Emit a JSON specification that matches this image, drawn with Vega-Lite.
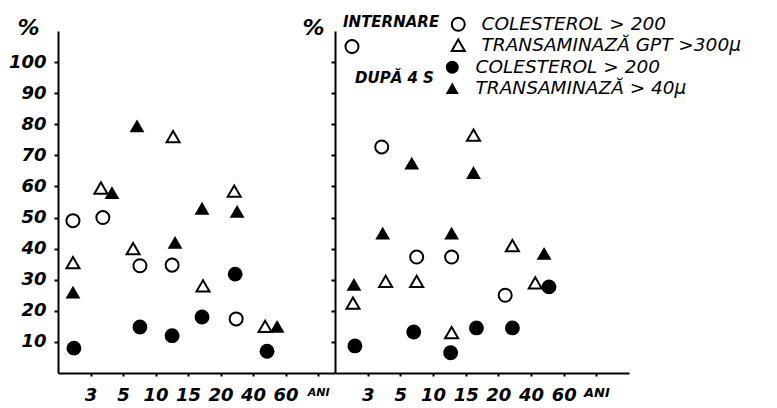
{
  "$schema": "https://vega.github.io/schema/vega-lite/v6.json",
  "background": "white",
  "padding": {"left": 8, "top": 15, "right": 0, "bottom": 0},
  "spacing": 0,
  "bounds": "flush",
  "config": {
    "view": {"stroke": null},
    "font": "DejaVu Sans",
    "axis": {
      "grid": false,
      "domainColor": "black",
      "domainWidth": 2,
      "tickColor": "black",
      "tickWidth": 2,
      "labelFont": "DejaVu Sans",
      "labelFontSize": 18,
      "labelFontStyle": "italic",
      "labelFontWeight": "bold",
      "labelColor": "black",
      "titleColor": "black",
      "titleFont": "DejaVu Sans"
    },
    "legend": {
      "labelFont": "DejaVu Sans",
      "labelFontSize": 18.5,
      "labelFontStyle": "italic",
      "labelColor": "black",
      "labelLimit": 400,
      "labelOffset": 14,
      "titleFont": "DejaVu Sans",
      "titleFontSize": 15,
      "titleFontStyle": "italic",
      "titleFontWeight": "bold",
      "titleColor": "black",
      "titleOrient": "left",
      "titlePadding": 9,
      "symbolSize": 170,
      "symbolStrokeWidth": 2,
      "symbolStrokeColor": "black",
      "rowPadding": 0,
      "padding": 0
    }
  },
  "datasets": {
    "pts": [
      {"panel": "M", "etapa": "INTERNARE", "ind": "COLESTEROL > 200", "grupa": 0.46, "pct": 49},
      {"panel": "M", "etapa": "INTERNARE", "ind": "COLESTEROL > 200", "grupa": 1.38, "pct": 50},
      {"panel": "M", "etapa": "INTERNARE", "ind": "COLESTEROL > 200", "grupa": 2.52, "pct": 34.5},
      {"panel": "M", "etapa": "INTERNARE", "ind": "COLESTEROL > 200", "grupa": 3.51, "pct": 34.7},
      {"panel": "M", "etapa": "INTERNARE", "ind": "COLESTEROL > 200", "grupa": 5.48, "pct": 17.4},
      {"panel": "M", "etapa": "INTERNARE", "ind": "TRANSAMINAZĂ GPT >300μ", "grupa": 0.46, "pct": 35.5},
      {"panel": "M", "etapa": "INTERNARE", "ind": "TRANSAMINAZĂ GPT >300μ", "grupa": 1.32, "pct": 59.5},
      {"panel": "M", "etapa": "INTERNARE", "ind": "TRANSAMINAZĂ GPT >300μ", "grupa": 2.31, "pct": 40},
      {"panel": "M", "etapa": "INTERNARE", "ind": "TRANSAMINAZĂ GPT >300μ", "grupa": 3.54, "pct": 76},
      {"panel": "M", "etapa": "INTERNARE", "ind": "TRANSAMINAZĂ GPT >300μ", "grupa": 4.46, "pct": 28},
      {"panel": "M", "etapa": "INTERNARE", "ind": "TRANSAMINAZĂ GPT >300μ", "grupa": 5.42, "pct": 58.5},
      {"panel": "M", "etapa": "INTERNARE", "ind": "TRANSAMINAZĂ GPT >300μ", "grupa": 6.37, "pct": 15},
      {"panel": "M", "etapa": "DUPĂ 4 S", "ind": "COLESTEROL > 200", "grupa": 0.49, "pct": 8},
      {"panel": "M", "etapa": "DUPĂ 4 S", "ind": "COLESTEROL > 200", "grupa": 2.52, "pct": 14.8},
      {"panel": "M", "etapa": "DUPĂ 4 S", "ind": "COLESTEROL > 200", "grupa": 3.51, "pct": 12},
      {"panel": "M", "etapa": "DUPĂ 4 S", "ind": "COLESTEROL > 200", "grupa": 4.43, "pct": 18},
      {"panel": "M", "etapa": "DUPĂ 4 S", "ind": "COLESTEROL > 200", "grupa": 5.45, "pct": 31.8},
      {"panel": "M", "etapa": "DUPĂ 4 S", "ind": "COLESTEROL > 200", "grupa": 6.43, "pct": 7},
      {"panel": "M", "etapa": "DUPĂ 4 S", "ind": "TRANSAMINAZĂ > 40μ", "grupa": 0.46, "pct": 26},
      {"panel": "M", "etapa": "DUPĂ 4 S", "ind": "TRANSAMINAZĂ > 40μ", "grupa": 1.66, "pct": 58},
      {"panel": "M", "etapa": "DUPĂ 4 S", "ind": "TRANSAMINAZĂ > 40μ", "grupa": 2.43, "pct": 79.5},
      {"panel": "M", "etapa": "DUPĂ 4 S", "ind": "TRANSAMINAZĂ > 40μ", "grupa": 3.6, "pct": 42},
      {"panel": "M", "etapa": "DUPĂ 4 S", "ind": "TRANSAMINAZĂ > 40μ", "grupa": 4.43, "pct": 53},
      {"panel": "M", "etapa": "DUPĂ 4 S", "ind": "TRANSAMINAZĂ > 40μ", "grupa": 5.51, "pct": 52},
      {"panel": "M", "etapa": "DUPĂ 4 S", "ind": "TRANSAMINAZĂ > 40μ", "grupa": 6.74, "pct": 15},
      {"panel": "F", "etapa": "INTERNARE", "ind": "COLESTEROL > 200", "grupa": 0.52, "pct": 105},
      {"panel": "F", "etapa": "INTERNARE", "ind": "COLESTEROL > 200", "grupa": 1.43, "pct": 72.7},
      {"panel": "F", "etapa": "INTERNARE", "ind": "COLESTEROL > 200", "grupa": 2.5, "pct": 37.3},
      {"panel": "F", "etapa": "INTERNARE", "ind": "COLESTEROL > 200", "grupa": 3.57, "pct": 37.3},
      {"panel": "F", "etapa": "INTERNARE", "ind": "COLESTEROL > 200", "grupa": 5.21, "pct": 25},
      {"panel": "F", "etapa": "INTERNARE", "ind": "TRANSAMINAZĂ GPT >300μ", "grupa": 0.55, "pct": 22.5},
      {"panel": "F", "etapa": "INTERNARE", "ind": "TRANSAMINAZĂ GPT >300μ", "grupa": 1.55, "pct": 29.5},
      {"panel": "F", "etapa": "INTERNARE", "ind": "TRANSAMINAZĂ GPT >300μ", "grupa": 2.5, "pct": 29.5},
      {"panel": "F", "etapa": "INTERNARE", "ind": "TRANSAMINAZĂ GPT >300μ", "grupa": 3.57, "pct": 13},
      {"panel": "F", "etapa": "INTERNARE", "ind": "TRANSAMINAZĂ GPT >300μ", "grupa": 4.24, "pct": 76.5},
      {"panel": "F", "etapa": "INTERNARE", "ind": "TRANSAMINAZĂ GPT >300μ", "grupa": 5.43, "pct": 41},
      {"panel": "F", "etapa": "INTERNARE", "ind": "TRANSAMINAZĂ GPT >300μ", "grupa": 6.13, "pct": 29},
      {"panel": "F", "etapa": "DUPĂ 4 S", "ind": "COLESTEROL > 200", "grupa": 0.61, "pct": 8.7},
      {"panel": "F", "etapa": "DUPĂ 4 S", "ind": "COLESTEROL > 200", "grupa": 2.41, "pct": 13.2},
      {"panel": "F", "etapa": "DUPĂ 4 S", "ind": "COLESTEROL > 200", "grupa": 3.54, "pct": 6.5},
      {"panel": "F", "etapa": "DUPĂ 4 S", "ind": "COLESTEROL > 200", "grupa": 4.33, "pct": 14.5},
      {"panel": "F", "etapa": "DUPĂ 4 S", "ind": "COLESTEROL > 200", "grupa": 5.43, "pct": 14.5},
      {"panel": "F", "etapa": "DUPĂ 4 S", "ind": "COLESTEROL > 200", "grupa": 6.55, "pct": 27.7},
      {"panel": "F", "etapa": "DUPĂ 4 S", "ind": "TRANSAMINAZĂ > 40μ", "grupa": 0.58, "pct": 28.5},
      {"panel": "F", "etapa": "DUPĂ 4 S", "ind": "TRANSAMINAZĂ > 40μ", "grupa": 1.46, "pct": 45},
      {"panel": "F", "etapa": "DUPĂ 4 S", "ind": "TRANSAMINAZĂ > 40μ", "grupa": 2.35, "pct": 67.5},
      {"panel": "F", "etapa": "DUPĂ 4 S", "ind": "TRANSAMINAZĂ > 40μ", "grupa": 3.57, "pct": 45},
      {"panel": "F", "etapa": "DUPĂ 4 S", "ind": "TRANSAMINAZĂ > 40μ", "grupa": 4.24, "pct": 64.5},
      {"panel": "F", "etapa": "DUPĂ 4 S", "ind": "TRANSAMINAZĂ > 40μ", "grupa": 6.4, "pct": 38.5}
    ]
  },
  "hconcat": [
    {
      "width": 277,
      "height": 342,
      "encoding": {
        "x": {
          "field": "grupa", "type": "quantitative",
          "scale": {"domain": [0, 8.52], "nice": false, "zero": false},
          "axis": {
            "title": null,
            "values": [1, 2, 3, 4, 5, 6, 7, 8],
            "labelExpr": "['', '3', '5', '10', '15', '20', '40', '60', 'ANI'][datum.value]",
            "labelFontSize": {"condition": {"test": "datum.value == 8", "value": 11}, "value": 18},
            "tickSize": 3,
            "labelPadding": 10,
            "labelFlush": false,
            "labelOverlap": false,
            "labelSeparation": -40
          }
        },
        "y": {
          "field": "pct", "type": "quantitative",
          "scale": {"domain": [0, 110], "nice": false},
          "axis": {
            "title": "%",
            "titleAngle": 0,
            "titleX": -30,
            "titleY": -4,
            "titleAlign": "center",
            "titleBaseline": "middle",
            "titleFontSize": 22,
            "titleFontWeight": "bold",
            "titleFontStyle": "italic",
            "values": [10, 20, 30, 40, 50, 60, 70, 80, 90, 100],
            "tickSize": 4,
            "labelPadding": 8,
            "labelFlush": false,
            "labelOverlap": false,
            "labelSeparation": -40
          }
        }
      },
      "layer": [
        {
          "data": {"name": "pts"},
          "transform": [{"filter": "datum.panel == 'M' && datum.etapa == 'INTERNARE'"}],
          "mark": {"type": "point", "filled": false, "color": "black", "strokeWidth": 2, "size": 170, "opacity": 1},
          "encoding": {
            "shape": {"condition": {"test": "indexof(datum.ind, 'COLESTEROL') == 0", "value": "circle"}, "value": "triangle-up"}
          }
        },
        {
          "data": {"name": "pts"},
          "transform": [{"filter": "datum.panel == 'M' && datum.etapa == 'DUPĂ 4 S'"}],
          "mark": {"type": "point", "filled": true, "color": "black", "size": 220, "opacity": 1},
          "encoding": {
            "shape": {"condition": {"test": "indexof(datum.ind, 'COLESTEROL') == 0", "value": "circle"}, "value": "triangle-up"}
          }
        },
        {
          "data": {"values": [{}]},
          "mark": {"type": "point", "shape": "triangle-up", "filled": true, "color": "black", "size": 70, "opacity": 1},
          "encoding": {"x": {"datum": 0}, "y": {"datum": 107.5}}
        },
        {
          "data": {"values": [{}]},
          "mark": {"type": "text", "text": "♂", "fontSize": 20, "fontWeight": "bold", "color": "black"},
          "encoding": {"x": {"datum": 6.6}, "y": {"datum": 73}}
        }
      ]
    },
    {
      "width": 294,
      "height": 342,
      "resolve": {"scale": {"shape": "independent"}},
      "encoding": {
        "x": {
          "field": "grupa", "type": "quantitative",
          "scale": {"domain": [0, 9], "nice": false, "zero": false},
          "axis": {
            "title": null,
            "values": [1, 2, 3, 4, 5, 6, 7, 8],
            "labelExpr": "['', '3', '5', '10', '15', '20', '40', '60', 'ANI'][datum.value]",
            "labelFontSize": {"condition": {"test": "datum.value == 8", "value": 13}, "value": 18},
            "tickSize": 3,
            "labelPadding": 10,
            "labelFlush": false,
            "labelOverlap": false,
            "labelSeparation": -40
          }
        },
        "y": {
          "field": "pct", "type": "quantitative",
          "scale": {"domain": [0, 110], "nice": false},
          "axis": {
            "title": "%",
            "titleAngle": 0,
            "titleX": -22,
            "titleY": -4,
            "titleAlign": "center",
            "titleBaseline": "middle",
            "titleFontSize": 22,
            "titleFontWeight": "bold",
            "titleFontStyle": "italic",
            "values": [10, 20, 30, 40, 50, 60, 70, 80, 90, 100],
            "tickSize": 4,
            "labels": false
          }
        }
      },
      "layer": [
        {
          "data": {"name": "pts"},
          "transform": [{"filter": "datum.panel == 'F' && datum.etapa == 'INTERNARE'"}],
          "mark": {"type": "point", "filled": false, "color": "black", "strokeWidth": 2, "size": 170, "opacity": 1},
          "encoding": {
            "shape": {
              "field": "ind", "type": "nominal",
              "scale": {"domain": ["COLESTEROL > 200", "TRANSAMINAZĂ GPT >300μ"], "range": ["circle", "triangle-up"]},
              "legend": {"title": "INTERNARE", "orient": "none", "legendX": 8, "legendY": -16, "titleAnchor": "start"}
            }
          }
        },
        {
          "data": {"name": "pts"},
          "transform": [{"filter": "datum.panel == 'F' && datum.etapa == 'DUPĂ 4 S'"}],
          "mark": {"type": "point", "filled": true, "color": "black", "size": 220, "opacity": 1},
          "encoding": {
            "shape": {
              "field": "ind", "type": "nominal",
              "scale": {"domain": ["COLESTEROL > 200", "TRANSAMINAZĂ > 40μ"], "range": ["circle", "triangle-up"]},
              "legend": {"title": "DUPĂ 4 S", "orient": "none", "legendX": 20, "legendY": 27, "titleAnchor": "middle"}
            }
          }
        },
        {
          "data": {"values": [{}]},
          "mark": {"type": "point", "shape": "triangle-up", "filled": true, "color": "black", "size": 70, "opacity": 1},
          "encoding": {"x": {"datum": 0}, "y": {"datum": 109.5}}
        },
        {
          "data": {"values": [{}]},
          "mark": {"type": "point", "shape": "triangle-right", "filled": true, "color": "black", "size": 90, "opacity": 1},
          "encoding": {"x": {"datum": 8.95}, "y": {"datum": 0}}
        },
        {
          "data": {"values": [{}]},
          "mark": {"type": "text", "text": "♀", "fontSize": 20, "fontWeight": "bold", "color": "black"},
          "encoding": {"x": {"datum": 7.7}, "y": {"datum": 74}}
        }
      ]
    }
  ]
}
